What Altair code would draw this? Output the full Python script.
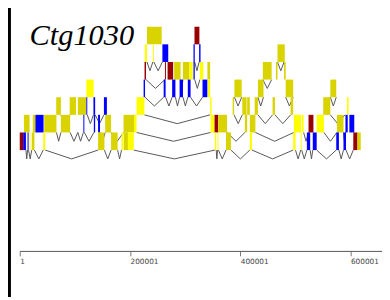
import altair as alt
import pandas as pd

# ---- exon boxes: row index, start (kb), end (kb), colour class ----
box_row = [0, 0,
           1, 1, 1, 1, 1, 1,
           2, 2, 2, 2, 2, 2, 2, 2, 2, 2, 2, 2,
           3, 3, 3, 3, 3, 3, 3, 3, 3, 3, 3, 3,
           4, 4, 4, 4, 4, 4, 4, 4, 4, 4, 4, 4, 4, 4, 4, 4,
           5, 5, 5, 5, 5, 5, 5, 5, 5, 5, 5, 5, 5, 5, 5, 5, 5, 5, 5, 5, 5, 5, 5,
           6, 6, 6, 6, 6, 6, 6, 6, 6, 6, 6, 6, 6, 6, 6, 6, 6, 6, 6, 6, 6, 6, 6]
box_start = [230.9, 317.0,
             226.8, 241.5, 258.8, 315.2, 325.4, 467.6,
             226.4, 263.4, 268.2, 280.1, 296.1, 307.8, 315.2, 326.8, 340.5, 441.0, 464.8, 479.5,
             120.8, 224.7, 261.1, 276.5, 290.0, 304.9, 331.6, 341.0, 389.5, 432.1, 482.5, 563.5,
             66.2, 90.6, 105.3, 120.8, 133.7, 152.7, 211.9, 345.4, 386.3, 403.7, 412.6, 426.2, 458.7, 491.4, 550.6, 593.7,
             7.6, 23.6, 28.4, 44.4, 74.6, 115.4, 134.4, 142.1, 155.0, 188.3, 207.3, 346.3, 353.4, 360.0, 408.5, 417.4, 497.3, 511.5, 523.9, 538.7, 575.4, 590.9, 598.0,
             0.0, 6.2, 14.2, 17.8, 21.8, 42.6, 142.1, 165.7, 184.7, 189.1, 196.3, 354.0, 358.8, 374.2, 417.4, 496.0, 509.7, 520.9, 531.6, 574.2, 587.3, 605.1, 612.7]
box_end = [257.5, 325.9,
           230.9, 243.3, 269.4, 317.5, 328.0, 480.8,
           229.1, 265.2, 278.3, 291.8, 307.8, 313.8, 317.5, 333.0, 345.4, 457.0, 467.6, 482.5,
           134.1, 227.3, 264.6, 282.4, 296.1, 309.9, 340.5, 345.4, 402.6, 442.2, 496.0, 574.2,
           74.6, 102.1, 120.8, 122.5, 136.8, 158.1, 226.1, 348.1, 388.9, 411.5, 417.4, 432.1, 463.0, 496.0, 563.5, 596.7,
           17.8, 28.4, 43.2, 66.6, 91.5, 117.2, 136.8, 145.6, 165.7, 207.3, 211.9, 353.4, 360.0, 376.0, 412.6, 427.5, 510.2, 515.0, 532.8, 551.8, 587.3, 595.0, 606.9,
           6.2, 11.2, 16.0, 19.5, 26.6, 46.2, 153.6, 177.6, 188.3, 196.3, 206.9, 356.4, 360.5, 383.1, 421.4, 500.3, 511.5, 526.9, 538.7, 579.0, 591.9, 612.7, 618.6]
box_col = ["O", "R",
           "Y", "Y", "B", "B", "B", "O",
           "R", "R", "R", "O", "O", "Y", "B", "Y", "O", "O", "O", "O",
           "Y", "B", "B", "B", "B", "B", "B", "Y", "O", "O", "O", "O",
           "O", "O", "O", "B", "B", "B", "Y", "Y", "O", "O", "O", "O", "O", "O", "O", "Y",
           "O", "O", "B", "O", "O", "B", "B", "B", "O", "O", "Y", "Y", "R", "O", "O", "O", "Y", "Y", "R", "Y", "O", "B", "B",
           "R", "B", "B", "Y", "O", "Y", "O", "O", "Y", "O", "Y", "Y", "Y", "O", "Y", "Y", "Y", "B", "B", "B", "B", "R", "O"]

# ---- intron chevrons: level (row boundary they hang from), start (kb), end (kb) ----
chev_level = [2, 2, 2, 2,
              3, 3, 3, 3,
              4, 4, 4, 4, 4, 4, 4, 4, 4,
              5, 5, 5, 5, 5, 5, 5, 5,
              6, 6, 6, 6, 6, 6, 6, 6, 6, 6, 6, 6,
              7, 7, 7, 7, 7, 7, 7, 7, 7, 7, 7, 7, 7, 7, 7, 7, 7]
chev_start = [230.9, 243.3, 317.5, 467.6,
              229.1, 291.8, 317.5, 441.0,
              227.3, 264.6, 282.4, 296.1, 309.9, 389.5, 432.1, 482.5, 563.5,
              74.6, 122.5, 136.8, 226.1, 388.9, 432.1, 463.0, 563.5,
              66.6, 91.5, 105.3, 117.2, 145.6, 165.7, 211.9, 376.0, 427.5, 515.0, 551.8, 587.3,
              11.2, 16.0, 26.6, 46.2, 153.6, 177.6, 206.9, 356.4, 360.5, 383.1, 421.4, 500.3, 511.5, 526.9, 538.7, 579.0, 591.9]
chev_end = [241.5, 258.8, 325.4, 479.5,
            263.4, 296.1, 326.8, 457.0,
            261.1, 276.5, 290.0, 304.9, 331.6, 402.6, 442.2, 496.0, 574.2,
            90.6, 133.7, 152.7, 345.4, 403.7, 458.7, 491.4, 590.0,
            74.6, 105.3, 115.4, 134.4, 155.0, 188.3, 346.3, 408.5, 497.3, 523.9, 575.4, 590.9,
            14.2, 21.8, 42.6, 142.1, 165.7, 184.7, 354.0, 358.8, 374.2, 417.4, 496.0, 509.7, 520.9, 531.6, 574.2, 587.3, 605.1]

tick_values = [1, 200001, 400001, 600001]
contig_name = "Ctg1030"

color_keys = ["Y", "O", "B", "R"]
color_vals = ["#ffff00", "#d9d300", "#0000ff", "#990000"]

# ---- build tables ----
boxes = pd.DataFrame({
    "row": box_row,
    "row2": [r + 1 for r in box_row],
    "start": [v * 1000 for v in box_start],
    "end": [v * 1000 for v in box_end],
    "col": box_col,
})

seg_rows = []
for lv, s, e in zip(chev_level, chev_start, chev_end):
    m = (s + e) / 2 * 1000
    seg_rows.append({"x": s * 1000, "y": lv, "x2": m, "y2": lv + 0.5})
    seg_rows.append({"x": m, "y": lv + 0.5, "x2": e * 1000, "y2": lv})
segs = pd.DataFrame(seg_rows)

X_DOMAIN = [0, 657200]
Y_DOMAIN = [-0.8889, 12.7222]

xscale = alt.Scale(domain=X_DOMAIN, nice=False, zero=False)
yscale = alt.Scale(domain=Y_DOMAIN, reverse=True, nice=False, zero=False)

xaxis = alt.Axis(values=tick_values, format="d", labelAlign="left",
                 labelFont="DejaVu Sans", labelFontSize=7.5, labelColor="#444444",
                 tickColor="#777777", domainColor="#555555", tickSize=5,
                 labelPadding=2, grid=False, title=None, labelFlush=False,
                 labelOverlap=False, domainWidth=1, tickWidth=1)

chev = alt.Chart(segs).mark_rule(color="#555555", strokeWidth=1).encode(
    x=alt.X("x:Q", scale=xscale, axis=xaxis),
    x2="x2:Q",
    y=alt.Y("y:Q", scale=yscale, axis=None),
    y2="y2:Q",
)

rects = alt.Chart(boxes).mark_rect(strokeWidth=0).encode(
    x=alt.X("start:Q", scale=xscale, axis=xaxis),
    x2="end:Q",
    y=alt.Y("row:Q", scale=yscale, axis=None),
    y2="row2:Q",
    color=alt.Color("col:N", scale=alt.Scale(domain=color_keys, range=color_vals), legend=None),
)

title = alt.Chart(pd.DataFrame({"t": [contig_name]})).mark_text(
    font="Liberation Serif", fontStyle="italic", fontSize=31, align="left",
    baseline="alphabetic", color="black"
).encode(x=alt.value(10), y=alt.value(35), text="t:N")

frame = alt.Chart(pd.DataFrame({"k": [0]})).mark_rule(color="black", strokeWidth=3).encode(
    x=alt.value(-10.5), y=alt.value(-8), y2=alt.value(292)
)

chart = alt.layer(chev, rects, title, frame).properties(
    width=370, height=245,
    autosize=alt.AutoSizeParams(type="none"),
    padding={"left": 12, "top": 0, "right": 0, "bottom": 47},
).configure_view(strokeWidth=0)

chart.save("out.html", embed_options={"renderer": "svg", "actions": False})
